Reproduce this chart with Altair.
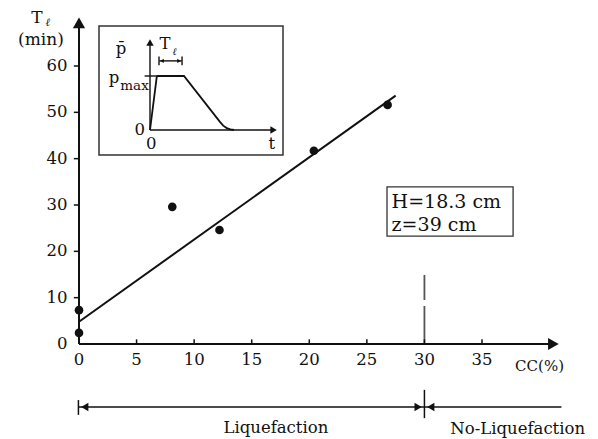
import altair as alt
import pandas as pd

# ---------------- data ----------------
cc_pct = [0.0, 0.0, 8.1, 12.2, 20.4, 26.8]
t_liq = [7.3, 2.4, 29.6, 24.6, 41.7, 51.6]
fit_cc = [0.0, 27.5]
fit_t = [4.8, 53.6]
x_tick_vals = [0, 5, 10, 15, 20, 25, 30, 35]
x_tick_text = ["0", "5", "10", "15", "20", "25", "30", "35"]
y_tick_vals = [0, 10, 20, 30, 40, 50, 60]
y_tick_text = ["0", "10", "20", "30", "40", "50", "60"]
box_lines = ["H=18.3 cm", "z=39 cm"]
zone_labels = ["Liquefaction", "No-Liquefaction"]
threshold_cc = 30
# inset: normalised pore-pressure history
inset_t = [0.0, 0.56, 0.62, 2.83, 5.83, 6.1, 6.4, 6.7, 7.0]
inset_p = [0.0, 0.98, 1.0, 1.0, 0.15, 0.08, 0.035, 0.01, 0.0]

FONT = "DejaVu Serif"
INK = "#111111"

XS = alt.Scale(domain=[0, 35], range=[71, 474])
YS = alt.Scale(domain=[0, 60], range=[336, 58])
TS = alt.Scale(domain=[0, 10], range=[142, 262])
PS = alt.Scale(domain=[0, 1], range=[122, 68])


def X(f, s):
    return alt.X(f, type="quantitative", scale=s, axis=None)


def Y(f, s):
    return alt.Y(f, type="quantitative", scale=s, axis=None)


def rules(rows, xs, ys, width=1.5, color=INK, dash=None):
    df = pd.DataFrame(rows, columns=["x", "x2", "y", "y2"])
    kw = dict(color=color, strokeWidth=width)
    if dash:
        kw["strokeDash"] = dash
    return alt.Chart(df).mark_rule(**kw).encode(
        x=X("x", xs), x2="x2:Q", y=Y("y", ys), y2="y2:Q")


def heads(rows, xs, ys, size):
    df = pd.DataFrame(rows, columns=["x", "y", "shape"])
    return alt.Chart(df).mark_point(filled=True, size=size, color=INK,
                                    opacity=1, strokeWidth=0).encode(
        x=X("x", xs), y=Y("y", ys), shape=alt.Shape("shape:N", scale=None))


def texts(rows, xs, ys, size, align="center", style="normal"):
    df = pd.DataFrame(rows, columns=["x", "y", "t"])
    return alt.Chart(df).mark_text(font=FONT, fontSize=size, align=align,
                                   baseline="middle", color=INK,
                                   fontStyle=style).encode(
        x=X("x", xs), y=Y("y", ys), text="t:N")


# ---------------- main plot ----------------
main_axes = rules([[0, 0, 0, 69.5], [0, 41.0, 0, 0]], XS, YS, width=2)
x_ticks = rules([[v, v, 0, 1.0] for v in x_tick_vals[1:]], XS, YS, width=1.5)
y_ticks = rules([[-0.45, 0, v, v] for v in y_tick_vals[1:]], XS, YS, width=1.5)
axis_heads = heads([[0, 69.3, "triangle-up"], [41.2, 0, "triangle-right"]], XS, YS, 150)

x_labels = texts([[v, -3.5, t] for v, t in zip(x_tick_vals, x_tick_text)], XS, YS, 16.5)
y_labels = texts([[-1.0, v, t] for v, t in zip(y_tick_vals, y_tick_text)], XS, YS, 16.5, align="right")
y_title = texts([[-3.65, 70.4, "T"], [-3.3, 65.6, "(min)"]], XS, YS, 17)
y_title_sub = texts([[-2.72, 69.2, "ℓ"]], XS, YS, 11, style="italic")
x_title = texts([[40.0, -4.8, "CC(%)"]], XS, YS, 15)

fit = alt.Chart(pd.DataFrame({"cc": fit_cc, "t": fit_t})).mark_line(
    color=INK, strokeWidth=2).encode(x=X("cc", XS), y=Y("t", YS))
pts = alt.Chart(pd.DataFrame({"cc": cc_pct, "t": t_liq})).mark_circle(
    size=75, color=INK, opacity=1).encode(x=X("cc", XS), y=Y("t", YS))

thresh = rules([[threshold_cc, threshold_cc, 14.9, 9.5],
                [threshold_cc, threshold_cc, 8.2, 0]], XS, YS, width=1.8, color="#555555")

info_box = alt.Chart(pd.DataFrame({"a": [26.75], "b": [37.7], "c": [23.3], "d": [33.9]})).mark_rect(
    fill="white", stroke="#333333", strokeWidth=1.3).encode(
    x=X("a", XS), x2="b:Q", y=Y("c", YS), y2="d:Q")
info_text = texts([[27.15, 30.6, box_lines[0]], [27.15, 25.7, box_lines[1]]], XS, YS, 19, align="left")

zone_lines = rules([[0, 41.9, -13.6, -13.6],
                    [-0.05, -0.05, -12.1, -15.3],
                    [threshold_cc, threshold_cc, -9.9, -16.0]], XS, YS, width=1.5)
zone_heads = heads([[0.5, -13.6, "triangle-left"],
                    [29.45, -13.6, "triangle-right"],
                    [30.55, -13.6, "triangle-left"]], XS, YS, 70)
zone_text = texts([[17.1, -18.2, zone_labels[0]], [38.1, -18.3, zone_labels[1]]], XS, YS, 16.5)

main = alt.layer(info_box, thresh, zone_lines, zone_heads, main_axes, x_ticks, y_ticks,
                 axis_heads, fit, pts, x_labels, y_labels, y_title, y_title_sub,
                 x_title, info_text, zone_text)

# ---------------- inset ----------------
inset_box = alt.Chart(pd.DataFrame({"a": [0]})).mark_rect(
    fill="white", stroke="#333333", strokeWidth=1.5).encode(
    x=alt.value(91), x2=alt.value(275), y=alt.value(18), y2=alt.value(147))
inset_axes = rules([[0, 0, 0, 1.58], [0, 10.2, 0, 0],
                    [-0.45, 0.6, 1.0, 1.0],
                    [0.78, 2.64, 1.28, 1.28],
                    [0.75, 0.75, 1.2, 1.36], [2.67, 2.67, 1.2, 1.36]], TS, PS, width=1.4)
inset_heads = heads([[0, 1.62, "triangle-up"], [10.3, 0, "triangle-right"]], TS, PS, 55)
inset_small_heads = heads([[1.0, 1.28, "triangle-left"], [2.42, 1.28, "triangle-right"]], TS, PS, 18)
curve = alt.Chart(pd.DataFrame({"t": inset_t, "p": inset_p})).mark_line(
    color=INK, strokeWidth=1.8).encode(
    x=X("t", TS), y=Y("p", PS))
inset_text = texts([[-2.42, 1.5, "p\u0304"], [-3.0, 0.96, "p"],
                    [-0.85, 0.0, "0"], [0.1, -0.25, "0"], [10.15, -0.25, "t"],
                    [1.25, 1.6, "T"]], TS, PS, 16.5)
inset_sub = texts([[-1.29, 0.82, "max"]], TS, PS, 13.5)
inset_ell = texts([[2.05, 1.45, "ℓ"]], TS, PS, 10, style="italic")

inset = alt.layer(inset_box, inset_axes, inset_heads, inset_small_heads, curve,
                  inset_text, inset_sub, inset_ell)

chart = alt.layer(main, inset).resolve_scale(
    x="independent", y="independent").properties(
    width=582, height=431, padding=0,
    autosize=alt.AutoSizeParams(type="none")).configure_view(stroke=None)

chart.save("out.html", embed_options={"renderer": "svg", "actions": False})
